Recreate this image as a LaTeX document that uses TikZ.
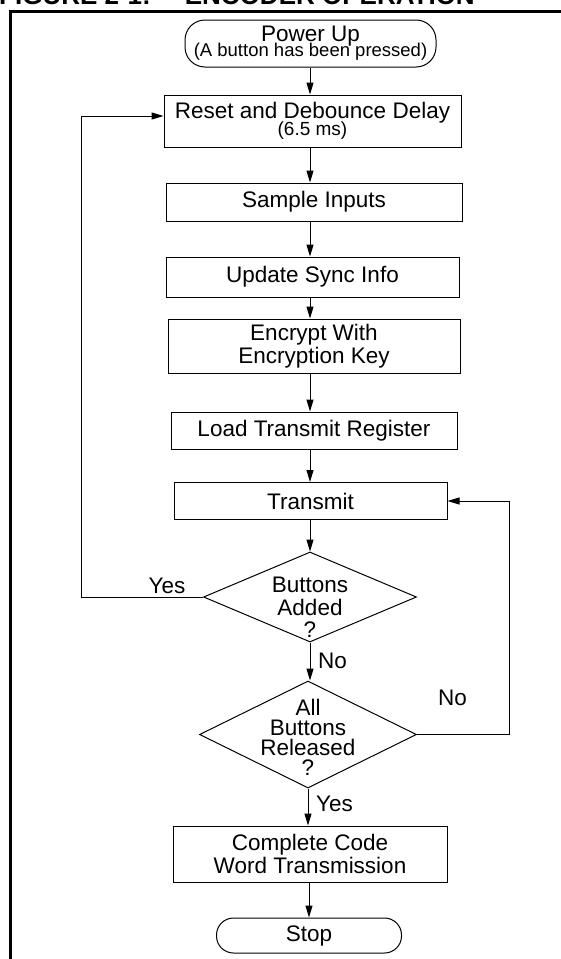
\documentclass[tikz,border=0pt]{standalone}
\usepackage{fontspec}
\setmainfont{Liberation Sans}
\usetikzlibrary{arrows.meta,shapes.geometric}
\lineskiplimit=-100pt
\newcommand{\fsz}[1]{\fontsize{22.5}{#1}\selectfont}
\tikzset{
  box/.style={draw, line width=1pt, rectangle, inner sep=0pt, align=center, font=\fsz{23.3}},
  term/.style={box, rounded corners=20pt},
  dec/.style={draw, line width=1pt, diamond, inner sep=0pt},
  lbl/.style={inner sep=0pt, font=\fsz{23}},
  arr/.style={line width=1pt, -{Triangle[length=12pt,width=7pt]}},
  link/.style={line width=1pt}
}
\begin{document}
\begin{tikzpicture}[x=1pt,y=-1pt]
\useasboundingbox (0,0) rectangle (561,959);
% title (cut off at the top of the picture)
\node[anchor=base west, inner sep=0pt, font={\fontsize{26}{28}\selectfont\bfseries}] (title) at (-1,4.5) {FIGURE 2-1:\hspace{34pt}ENCODER OPERATION};
% frame
\draw[line width=2.5pt] (10.5,1000) -- (10.5,11.5) -- (620,11.5);
% nodes
\node[term, minimum width=251pt, minimum height=47pt, font=\fsz{15}] (pu) at (310.5,43.5) {Power Up\\{\fontsize{18.5}{15}\selectfont(A button has been pressed)}};
\node[box, minimum width=297pt, minimum height=52pt, font=\fsz{17}] (reset) at (312.5,121) {Reset and Debounce Delay\\{\fontsize{19}{17}\selectfont(6.5 ms)}};
\node[box, minimum width=296pt, minimum height=38pt] (sample) at (314,202) {Sample Inputs};
\node[box, minimum width=293pt, minimum height=40pt] (update) at (312.5,277) {Update Sync Info};
\node[box, minimum width=292pt, minimum height=54pt] (encrypt) at (314,346) {Encrypt With\\Encryption Key};
\node[box, minimum width=286pt, minimum height=37pt] (load) at (314,430.5) {Load Transmit Register};
\node[box, minimum width=273pt, minimum height=37pt] (transmit) at (310.5,501) {Transmit};
\node[dec, minimum width=213pt, minimum height=90pt] (d1) at (310,597) {};
\node[lbl, align=center, font=\fsz{22.5}] (d1t) at (310,607.5) {Buttons\\Added\\?};
\node[dec, minimum width=217pt, minimum height=107pt] (d2) at (308,734.5) {};
\node[lbl, align=center, font=\fsz{20}] (d2t) at (308,737) {All\\Buttons\\Released\\?};
\node[box, minimum width=274pt, minimum height=56pt] (complete) at (310,854) {Complete Code\\Word Transmission};
\node[term, rounded corners=17pt, minimum width=185pt, minimum height=35pt] (stop) at (309,935.5) {Stop};
% labels
\node[lbl, anchor=base] (yes1) at (167,593) {Yes};
\node[lbl, anchor=base west] (no1) at (318,668) {No};
\node[lbl, anchor=base] (no2) at (452.5,705) {No};
\node[lbl, anchor=base west] (yes2) at (316,811) {Yes};
% connectors
\draw[arr] (pu.south -| 310,0) -- (reset.north -| 310,0);
\draw[arr] (reset.south -| 310,0) -- (sample.north -| 310,0);
\draw[arr] (sample.south -| 310,0) -- (update.north -| 310,0);
\draw[arr] (update.south -| 310,0) -- (encrypt.north -| 310,0);
\draw[arr] (encrypt.south -| 310,0) -- (load.north -| 310,0);
\draw[arr] (load.south -| 310,0) -- (transmit.north -| 310,0);
\draw[arr] (transmit.south -| 310,0) -- (d1.north);
\draw[arr] (d1.south) -- (d1.south |- d2.north);
\draw[arr] (d2.south) -- (d2.south |- complete.north);
\draw[arr] (stop.north |- complete.south) -- (stop.north);
\coordinate (lb) at (81,116);
\draw[arr] (d1.west) -| (lb) -- (lb -| reset.west);
\coordinate (rb) at (509,501);
\draw[arr] (d2.east) -| (rb) -- (transmit.east);
\end{tikzpicture}
\end{document}
